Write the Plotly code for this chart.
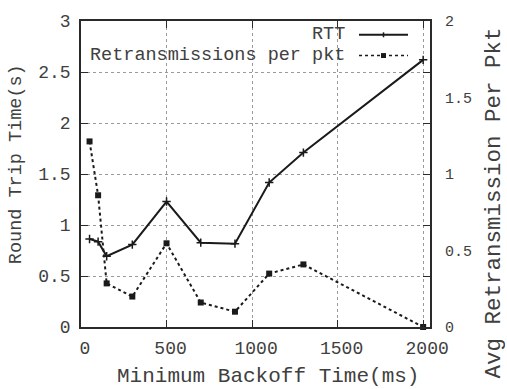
import plotly.graph_objects as go

# ---- data ----
backoff_ms = [50, 100, 150, 300, 500, 700, 900, 1100, 1300, 2000]
rtt_s = [0.863, 0.837, 0.694, 0.808, 1.230, 0.827, 0.817, 1.416, 1.710, 2.619]
retrans_per_pkt = [1.213, 0.861, 0.285, 0.199, 0.547, 0.160, 0.100, 0.349, 0.409, 0.0]

x_ticks = [0, 500, 1000, 1500, 2000]
y_ticks = [0, 0.5, 1, 1.5, 2, 2.5, 3]
y2_ticks = [0, 0.5, 1, 1.5, 2]

FONT = "Liberation Mono"
INK = "#1a1a1a"
TXT = "#404040"
FRAME = "#2a2a2a"
GRID = "#9a9a9a"

W, H = 507, 389
ML, MR, MT, MB = 81, 77, 17, 62
PW, PH = W - ML - MR, H - MT - MB


def px(x):
    return (x - ML) / PW


def py(y):
    return (H - MB - y) / PH


fig = go.Figure()

fig.add_trace(go.Scatter(
    x=backoff_ms, y=rtt_s, name="RTT", mode="lines+markers",
    line=dict(color=INK, width=2),
    marker=dict(symbol="cross-thin", size=6, line=dict(color=INK, width=1.5)),
    cliponaxis=False, showlegend=False,
))
fig.add_trace(go.Scatter(
    x=backoff_ms, y=retrans_per_pkt, name="Retransmissions per pkt",
    mode="lines+markers", yaxis="y2",
    line=dict(color=INK, width=2, dash="dot"),
    marker=dict(symbol="square", size=6, color=INK),
    cliponaxis=False, showlegend=False,
))

axis_common = dict(
    showline=True, linecolor=FRAME, linewidth=1.5, mirror="ticks",
    ticks="inside", ticklen=7, tickwidth=1, tickcolor=FRAME,
    showgrid=True, gridcolor=GRID, gridwidth=1, griddash="dot",
    zeroline=False,
)

fig.update_layout(
    width=W, height=H,
    margin=dict(l=ML, r=MR, t=MT, b=MB),
    paper_bgcolor="white", plot_bgcolor="white",
    font=dict(family=FONT, color=TXT),
    xaxis=dict(range=[0, 2040], tickmode="array", tickvals=x_ticks,
               tickfont=dict(size=18, family=FONT, color=TXT),
               ticklabelshift=4, ticklabelstandoff=4, **axis_common),
    yaxis=dict(range=[0, 3], tickmode="array", tickvals=y_ticks,
               ticktext=[f"{v:g}" for v in y_ticks],
               tickfont=dict(size=18, family=FONT, color=TXT),
               ticklabelstandoff=5, **axis_common),
    yaxis2=dict(range=[0, 2], overlaying="y", side="right",
                tickmode="array", tickvals=y2_ticks,
                ticktext=[f"{v:g}" for v in y2_ticks],
                tickfont=dict(size=15, family=FONT, color=TXT),
                ticks="", showline=False, showgrid=False, zeroline=False,
                ticklabelstandoff=14),
    showlegend=False,
)

# axis titles (positioned as in the reference)
fig.add_annotation(text="Minimum Backoff Time(ms)", xref="paper", yref="paper",
                   x=px(268), y=py(377), showarrow=False,
                   xanchor="center", yanchor="middle",
                   font=dict(size=21, family=FONT, color=TXT))
fig.add_annotation(text="Round Trip Time(s)", xref="paper", yref="paper",
                   x=px(16), y=py(162), showarrow=False, textangle=-90,
                   xanchor="center", yanchor="middle",
                   font=dict(size=18.5, family=FONT, color=TXT))
fig.add_annotation(text="Avg Retransmission Per Pkt", xref="paper", yref="paper",
                   x=px(494), y=py(202), showarrow=False, textangle=-90,
                   xanchor="center", yanchor="middle", height=22,
                   font=dict(size=22.5, family=FONT, color=TXT))

# key (text left of the line sample, as in the reference)
fig.add_shape(type="rect", xref="paper", yref="paper",
              x0=px(83), x1=px(412), y0=py(60), y1=py(18),
              fillcolor="white", line=dict(width=0), layer="between")
key_rows = [("RTT", 31, "solid"), ("Retransmissions per pkt", 52, "dot")]
for label, yy, dash in key_rows:
    fig.add_annotation(text=label, xref="paper", yref="paper",
                       x=px(347), y=py(yy), showarrow=False,
                       xanchor="right", yanchor="middle", height=17,
                       font=dict(size=18.5, family=FONT, color=TXT))
    fig.add_shape(type="line", xref="paper", yref="paper",
                  x0=px(359), x1=px(408), y0=py(yy), y1=py(yy),
                  line=dict(color=INK, width=2 if dash == "solid" else 1.5, dash=dash))
# key glyphs
fig.add_shape(type="line", xref="paper", yref="paper",
              x0=px(383.5), x1=px(383.5), y0=py(28.5), y1=py(33.5),
              line=dict(color=INK, width=1.5))
fig.add_shape(type="rect", xref="paper", yref="paper",
              x0=px(381), x1=px(386), y0=py(54.5), y1=py(49.5),
              fillcolor=INK, line=dict(width=0))

fig.write_html("out.html", config={"displayModeBar": False},
               post_script="document.body.style.margin='0';")
